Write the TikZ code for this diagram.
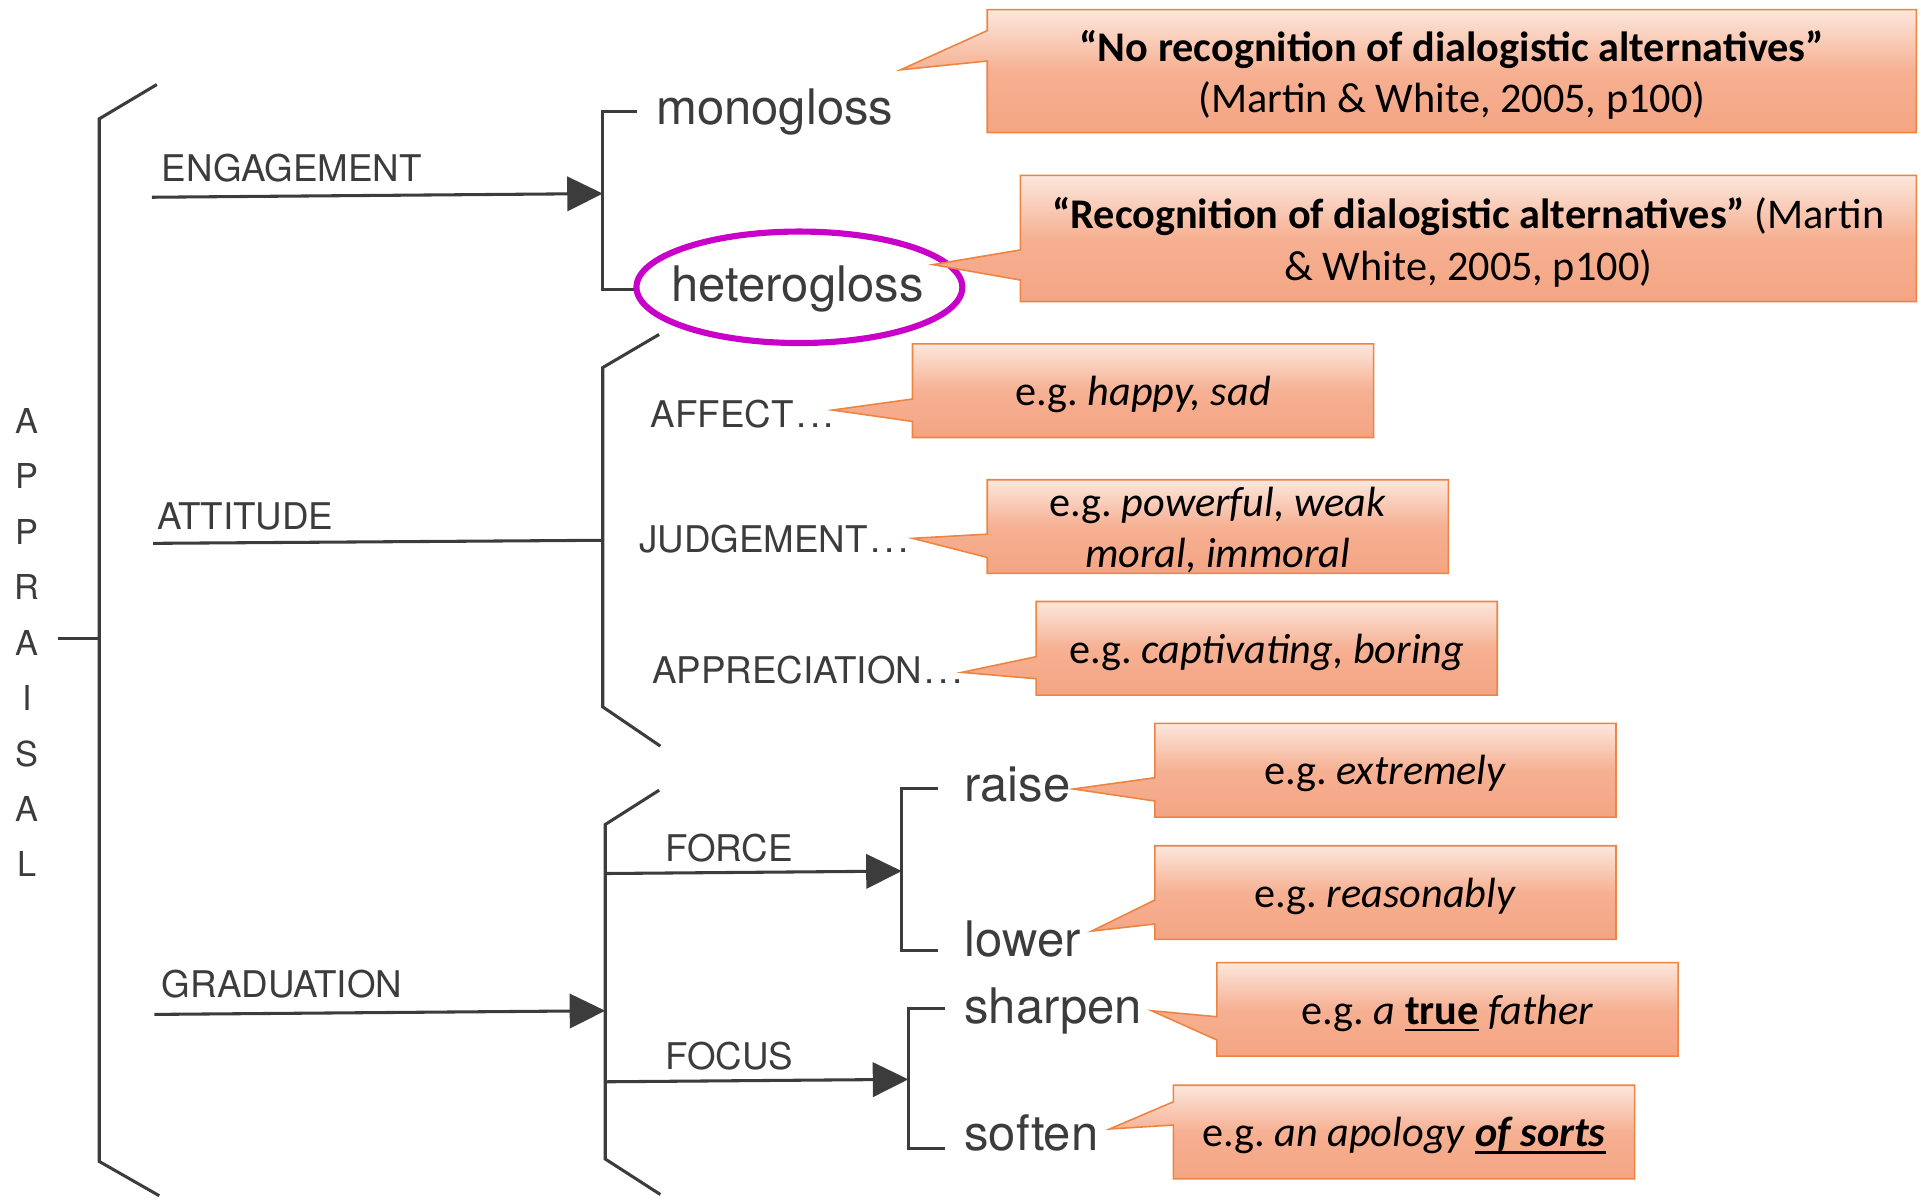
\documentclass[tikz,border=0pt]{standalone}
\usepackage{fontspec}
\setmainfont{Carlito}
\newfontfamily\helv{TeX Gyre Heros}
\usetikzlibrary{arrows.meta,shapes.geometric,backgrounds}
\definecolor{ink}{HTML}{3C3C3C}
\definecolor{cTop}{HTML}{FCE7DD}
\definecolor{cMid}{HTML}{F6B092}
\definecolor{cBot}{HTML}{F4A583}
\definecolor{cEdge}{HTML}{EE8441}
\definecolor{ringcol}{HTML}{C800C8}
\frenchspacing
% thick underline for emphasised words
\newcommand\ulbf[1]{\setbox0=\hbox{#1}\rlap{\rule[-6pt]{\wd0}{2.2pt}}\box0\relax}
% spaced trailing dots
\newcommand\trail{\kern2pt.\kern3pt.\kern3pt.}
\begin{document}
\begin{tikzpicture}[x=1pt,y=-1pt,
  brk/.style={draw=ink, line width=2.5pt, line cap=butt, line join=miter},
  arr/.style={brk, -{Triangle[length=29pt,width=28pt]}},
  caps/.style={font=\helv\fontsize{30}{36}\selectfont, text=ink, inner sep=0pt, anchor=base west},
  word/.style={font=\helv\fontsize{40}{48}\selectfont, text=ink, inner sep=0pt, anchor=base west},
  letter/.style={font=\helv\fontsize{28}{34}\selectfont, text=ink, inner sep=0pt, anchor=base},
  boxshape/.style={minimum width=376pt, minimum height=76pt, inner sep=0pt},
  cbox/.style={inner sep=0pt, align=center, font=\fontsize{34.5}{42}\selectfont, text=black},
  cshape/.style={draw=cEdge, line width=1.3pt, top color=cTop, bottom color=cBot, middle color=cMid},
]
\useasboundingbox (0,0) rectangle (1568,982);

% ---------- APPRAISAL system ----------
\foreach \L [count=\i] in {A,P,P,R,A,I,S,A,L}
  \node[letter] (ap\i) at (22,{353.7+45.26*(\i-1)}) {\L};
\draw[brk] (128,69) -- (81,97) -- (81,948) -- (130,976);
\coordinate (apL) at (47,521);
\coordinate (apR) at (81,521);
\draw[brk] (apL) -- (apR);

% ---------- ENGAGEMENT ----------
\node[caps] (eng) at (132,148.3) {ENGAGEMENT};
\coordinate (engS) at (124,161);
\coordinate (engE) at (492,158);
\draw[arr] (engS) -- (engE);
\draw[brk] (520,91) -- (492,91) -- (492,236) -- (518,236);
\node[word] (mono) at (535.6,102) {monogloss};
\node[word] (hetero) at (548,246) {heterogloss};
\node[draw=ringcol, line width=5pt, ellipse, minimum width=266pt, minimum height=91pt, inner sep=0pt] (ring) at (652.5,234.5) {};

% ---------- ATTITUDE ----------
\node[caps] (att) at (128,432) {ATTITUDE};
\coordinate (attS) at (125,443.5);
\coordinate (attE) at (492,441);
\draw[brk] (attS) -- (attE);
\draw[brk] (538,273) -- (492,300) -- (492,577) -- (539,609);
\node[caps] (affect) at (531,349) {AFFECT\trail};
\node[caps] (judge) at (521.6,451) {JUDGEMENT\trail};
\node[caps] (apprec) at (532,558.3) {APPRECIATION\trail};

% ---------- GRADUATION ----------
\node[caps] (grad) at (132,814) {GRADUATION};
\coordinate (gradS) at (126,828);
\coordinate (gradE) at (494,825);
\draw[arr] (gradS) -- (gradE);
\draw[brk] (538,645) -- (494,673) -- (494,946) -- (539,975);

\node[caps] (force) at (543,703.3) {FORCE};
\coordinate (forceS) at (494,713);
\coordinate (forceE) at (736,711);
\draw[arr] (forceS) -- (forceE);
\draw[brk] (765.5,643.5) -- (736,643.5) -- (736,775.5) -- (765.5,775.5);
\node[word] (raise) at (787,654.4) {raise};
\node[word] (lower) at (787,781) {lower};

\node[caps] (focus) at (543,873) {FOCUS};
\coordinate (focusS) at (494,883);
\coordinate (focusE) at (741.4,881);
\draw[arr] (focusS) -- (focusE);
\draw[brk] (771,823) -- (741.4,823) -- (741.4,937.3) -- (771,937.3);
\node[word] (sharpen) at (787,835.3) {sharpen};
\node[word] (soften) at (787,938.7) {soften};

% ---------- callout boxes ----------
\node[boxshape, minimum width=758pt, minimum height=100pt] (b1) at (1185,58) {};
\node[boxshape, minimum width=731pt, minimum height=102.6pt] (b2) at (1198.5,194.7) {};
\node[boxshape] (b3) at (933,318.9) {};
\node[boxshape] (b4) at (994,429.8) {};
\node[boxshape] (b5) at (1033.9,529.2) {};
\node[boxshape] (b6) at (1130.8,628.7) {};
\node[boxshape] (b7) at (1130.8,728.5) {};
\node[boxshape] (b8) at (1181.5,823.9) {};
\node[boxshape] (b9) at (1146,924) {};

\coordinate (t1) at (735,57);
\coordinate (t2) at (761.5,216);
\coordinate (t3) at (679.5,334.7);
\coordinate (t4) at (745,439.4);
\coordinate (t5) at (785,548.8);
\coordinate (t6) at (876,644);
\coordinate (t7) at (891,760);
\coordinate (t8) at (940,825);
\coordinate (t9) at (905.7,921.5);

\foreach \n/\ya/\yb in {1/25/49.8, 2/204/228.6, 3/325.7/344, 4/436/455, 5/536/554,
                        6/634.8/653.8, 7/734.6/754.2, 8/829.9/848.9, 9/899.3/918.3}
  \path[cshape] (b\n.north west) -- (b\n.north east) -- (b\n.south east) -- (b\n.south west)
    -- (b\n.west |- 0,\yb) -- (t\n) -- (b\n.west |- 0,\ya) -- cycle;

% ---------- callout texts ----------
\node[cbox] (c1) at ([yshift=-3pt]b1.center)
  {\textbf{“No recognition of dialogistic alternatives”}\\(Martin \& White, 2005, p100)};
\node[cbox] (c2) at ([yshift=-3pt]b2.center)
  {\textbf{“Recognition of dialogistic alternatives”} (Martin\\\& White, 2005, p100)};
\node[cbox] (c3) at ([yshift=-3pt]b3.center) {e.g. \textit{happy, sad}};
\node[cbox] (c4) at ([yshift=-3pt]b4.center) {e.g. \textit{powerful, weak}\\\textit{moral, immoral}};
\node[cbox] (c5) at ([yshift=-3pt]b5.center) {e.g. \textit{captivating, boring}};
\node[cbox] (c6) at ([yshift=-3pt]b6.center) {e.g. \textit{extremely}};
\node[cbox] (c7) at ([yshift=-3pt]b7.center) {e.g. \textit{reasonably}};
\node[cbox] (c8) at ([yshift=-3pt]b8.center) {e.g. \textit{a} \ulbf{\textbf{true}} \textit{father}};
\node[cbox] (c9) at ([yshift=-3pt]b9.center) {e.g. \textit{an apology} \ulbf{\textbf{\textit{of sorts}}}};
\end{tikzpicture}
\end{document}
